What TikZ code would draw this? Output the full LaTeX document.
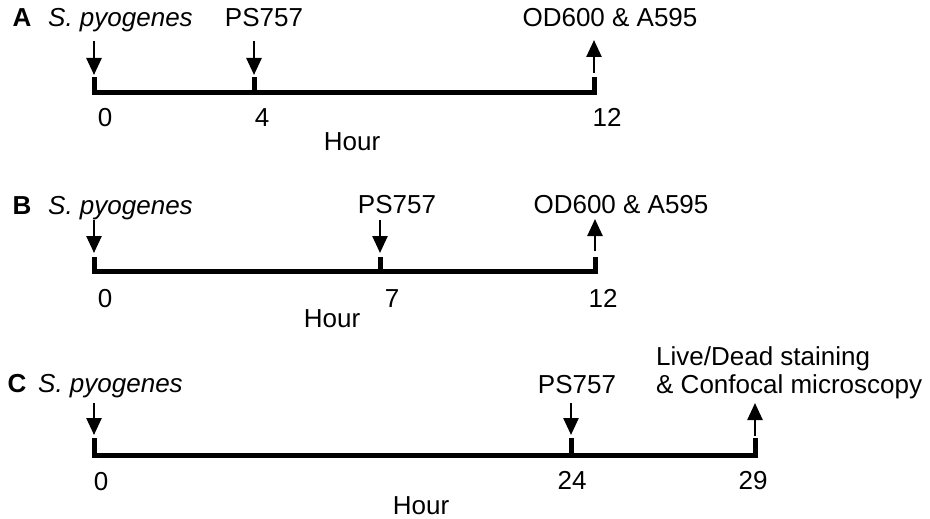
\documentclass[tikz,border=0pt]{standalone}
\usepackage{fontspec}
\setmainfont{Liberation Sans}
\usetikzlibrary{arrows.meta}
\begin{document}
\begin{tikzpicture}[x=1pt,y=-1pt,
  lbl/.style={font=\fontsize{26}{28}\selectfont, inner sep=0pt, anchor=base},
  panel/.style={lbl, font=\fontsize{26}{28}\selectfont\bfseries},
  axis/.style={line width=5pt, line join=miter, line cap=butt},
  ev/.style={line width=2.5pt, -{Triangle[width=15pt,length=17pt]}},
]
\useasboundingbox (0,0) rectangle (930,519);

% ---------- Panel A ----------
\node[panel] (Alab) at (22,27) {A};
\node[lbl] (Asp) at (120.5,27) {\itshape S. pyogenes};
\node[lbl] (Aps) at (264,27) {PS757};
\node[lbl] (Aod) at (610,27) {OD600 \& A595};
\node[lbl] (An0) at (105,127) {0};
\node[lbl] (An4) at (262,127) {4};
\node[lbl] (An12) at (607,127) {12};
\node[lbl] (Ahour) at (352,150) {Hour};

\coordinate (A0) at (94,93);
\coordinate (A4) at (254,93);
\coordinate (A12) at (594,93);
\coordinate (A0t) at (94,77);
\coordinate (A4t) at (254,77);
\coordinate (A12t) at (594,77);
\coordinate (A0s) at (94,41);
\coordinate (A0e) at (94,75);
\coordinate (A4s) at (254,41);
\coordinate (A4e) at (254,75);
\coordinate (A12s) at (594,73);
\coordinate (A12e) at (594,40);

\draw[axis] (A0t) -- (A0) -- (A12) -- (A12t);
\draw[axis] (A4) -- (A4t);
\draw[ev] (A0s) -- (A0e);
\draw[ev] (A4s) -- (A4e);
\draw[ev] (A12s) -- (A12e);

% ---------- Panel B ----------
\node[panel] (Blab) at (22,214) {B};
\node[lbl] (Bsp) at (120.5,214) {\itshape S. pyogenes};
\node[lbl] (Bps) at (397,213) {PS757};
\node[lbl] (Bod) at (621,213) {OD600 \& A595};
\node[lbl] (Bn0) at (105,307) {0};
\node[lbl] (Bn7) at (392,307) {7};
\node[lbl] (Bn12) at (603,307) {12};
\node[lbl] (Bhour) at (332,327) {Hour};

\coordinate (B0) at (94,271);
\coordinate (B7) at (380,271);
\coordinate (B12) at (595,271);
\coordinate (B0t) at (94,257);
\coordinate (B7t) at (380,257);
\coordinate (B12t) at (595,257);
\coordinate (B0s) at (94,220);
\coordinate (B0e) at (94,253);
\coordinate (B7s) at (380,220);
\coordinate (B7e) at (380,253);
\coordinate (B12s) at (595,251);
\coordinate (B12e) at (595,219);

\draw[axis] (B0t) -- (B0) -- (B12) -- (B12t);
\draw[axis] (B7) -- (B7t);
\draw[ev] (B0s) -- (B0e);
\draw[ev] (B7s) -- (B7e);
\draw[ev] (B12s) -- (B12e);

% ---------- Panel C ----------
\node[panel] (Clab) at (17,392) {C};
\node[lbl] (Csp) at (110.5,392) {\itshape S. pyogenes};
\node[lbl] (Cps) at (577,393) {PS757};
\node[lbl, anchor=base west, align=left] (Clive) at (656,393) {Live/Dead staining\\\& Confocal microscopy};
\node[lbl] (Cn0) at (101,490) {0};
\node[lbl] (Cn24) at (572,489) {24};
\node[lbl] (Cn29) at (753,489) {29};
\node[lbl] (Chour) at (421,514) {Hour};

\coordinate (C0) at (94,455);
\coordinate (C24) at (571,455);
\coordinate (C29) at (755,455);
\coordinate (C0t) at (94,438);
\coordinate (C24t) at (571,438);
\coordinate (C29t) at (755,438);
\coordinate (C0s) at (94,403);
\coordinate (C0e) at (94,435);
\coordinate (C24s) at (571,403);
\coordinate (C24e) at (571,435);
\coordinate (C29s) at (755,436);
\coordinate (C29e) at (755,403);

\draw[axis] (C0t) -- (C0) -- (C29) -- (C29t);
\draw[axis] (C24) -- (C24t);
\draw[ev] (C0s) -- (C0e);
\draw[ev] (C24s) -- (C24e);
\draw[ev] (C29s) -- (C29e);
\end{tikzpicture}
\end{document}
